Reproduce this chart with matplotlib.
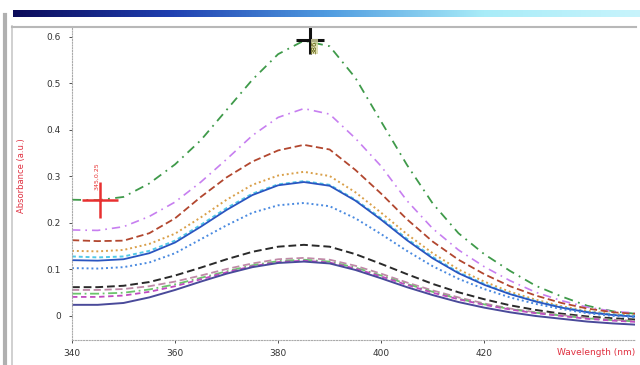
import numpy as np
import matplotlib
matplotlib.use("Agg")
import matplotlib.pyplot as plt
from matplotlib.colors import LinearSegmentedColormap

# wavelength grid (nm) and absorbance curves
wl = [340, 345, 350, 355, 360, 365, 370, 375, 380, 385, 390, 395,
      400, 405, 410, 415, 420, 425, 430, 435, 440, 445, 450]

green = [0.250, 0.249, 0.256, 0.285, 0.326, 0.378, 0.443, 0.508, 0.563, 0.592, 0.580, 0.512,
         0.418, 0.325, 0.242, 0.178, 0.133, 0.097, 0.065, 0.042, 0.022, 0.010, 0.004]
magenta = [0.185, 0.184, 0.192, 0.214, 0.245, 0.288, 0.337, 0.388, 0.427, 0.446, 0.434, 0.382,
           0.322, 0.248, 0.188, 0.142, 0.106, 0.076, 0.051, 0.033, 0.019, 0.010, 0.006]
red = [0.163, 0.161, 0.162, 0.178, 0.210, 0.256, 0.298, 0.332, 0.356, 0.368, 0.358, 0.314,
       0.263, 0.208, 0.160, 0.121, 0.090, 0.064, 0.044, 0.028, 0.016, 0.008, 0.004]
orange = [0.140, 0.139, 0.142, 0.155, 0.177, 0.212, 0.250, 0.282, 0.302, 0.310, 0.301, 0.266,
          0.222, 0.176, 0.135, 0.100, 0.074, 0.052, 0.035, 0.021, 0.011, 0.004, 0.001]
cyan = [0.128, 0.126, 0.128, 0.140, 0.162, 0.196, 0.232, 0.263, 0.283, 0.290, 0.282, 0.250,
        0.210, 0.166, 0.127, 0.094, 0.069, 0.048, 0.032, 0.019, 0.009, 0.003, 0.000]
blue = [0.120, 0.119, 0.122, 0.135, 0.158, 0.192, 0.228, 0.260, 0.281, 0.288, 0.280, 0.248,
        0.207, 0.163, 0.124, 0.092, 0.067, 0.047, 0.031, 0.018, 0.008, 0.002, -0.002]
blue_dot = [0.103, 0.102, 0.105, 0.115, 0.135, 0.165, 0.195, 0.222, 0.238, 0.243, 0.236, 0.210,
            0.176, 0.140, 0.107, 0.080, 0.058, 0.040, 0.026, 0.015, 0.006, 0.000, -0.003]
black = [0.062, 0.062, 0.065, 0.073, 0.087, 0.104, 0.122, 0.138, 0.149, 0.153, 0.149, 0.133,
         0.112, 0.090, 0.069, 0.051, 0.036, 0.023, 0.013, 0.005, -0.001, -0.005, -0.008]
pink = [0.056, 0.056, 0.058, 0.064, 0.074, 0.087, 0.101, 0.113, 0.122, 0.125, 0.121, 0.108,
        0.091, 0.072, 0.055, 0.040, 0.027, 0.016, 0.008, 0.002, -0.004, -0.008, -0.011]
green_low = [0.048, 0.048, 0.050, 0.057, 0.068, 0.082, 0.096, 0.109, 0.118, 0.121, 0.117, 0.104,
             0.087, 0.069, 0.052, 0.037, 0.025, 0.015, 0.007, 0.001, -0.005, -0.009, -0.012]
magenta_low = [0.041, 0.041, 0.044, 0.052, 0.064, 0.079, 0.094, 0.107, 0.116, 0.119, 0.115, 0.102,
               0.085, 0.067, 0.050, 0.036, 0.024, 0.014, 0.006, 0.000, -0.006, -0.010, -0.013]
purple = [0.024, 0.024, 0.028, 0.040, 0.056, 0.074, 0.091, 0.105, 0.114, 0.117, 0.113, 0.099,
          0.081, 0.062, 0.045, 0.030, 0.018, 0.008, 0.000, -0.006, -0.012, -0.016, -0.019]

# cursor crosshairs
cursor_wl = [345.5, 386.2]
cursor_abs = [0.250, 0.594]
cursor_text = ["345,0.25", "386"]

x_ticks = [340, 360, 380, 400, 420]
y_ticks = [0, 0.1, 0.2, 0.3, 0.4, 0.5, 0.6]

curves = [
    (green, "#3f9a4a", (0, (5, 3, 1, 3)), 1.3),
    (magenta, "#c77ff0", (0, (5, 3, 1, 3)), 1.2),
    (red, "#b2472f", (0, (4, 2)), 1.3),
    (orange, "#d9a04a", (0, (1, 1.5)), 1.4),
    (cyan, "#52c8e8", (0, (2, 1.5)), 1.4),
    (blue, "#2a55c0", "-", 1.3),
    (blue_dot, "#4a8ae0", (0, (1, 1.5)), 1.4),
    (black, "#2a2a2a", (0, (4, 2)), 1.4),
    (pink, "#c08aa8", (0, (4, 2)), 1.3),
    (green_low, "#6cc46c", (0, (5, 2, 1, 2)), 1.3),
    (magenta_low, "#c04cc0", (0, (3, 2)), 1.3),
    (purple, "#4a4a9a", "-", 1.4),
]

fig = plt.figure(figsize=(6.4, 3.65), dpi=100)

# window title bar gradient
bar = fig.add_axes([0.02, 0.953, 0.98, 0.02])
cmap = LinearSegmentedColormap.from_list("bar", ["#0c0c5a", "#1f3fb0", "#4f9be0", "#a8ecf8", "#c8f4fc"])
bar.imshow(np.linspace(0, 1, 256)[None, :], aspect="auto", cmap=cmap)
bar.axis("off")

# window/panel borders
fig.add_artist(plt.Line2D([0.008, 0.008], [0, 0.96], color="#b0b0b0", lw=3))
fig.add_artist(plt.Line2D([0.019, 0.019], [0, 0.93], color="#c8c8c8", lw=1.2))
fig.add_artist(plt.Line2D([0.019, 0.994], [0.926, 0.926], color="#b8b8b8", lw=1.5))

ax = fig.add_axes([0.1125, 0.068, 0.88, 0.855])
for vals, col, ls, lw in curves:
    ax.plot(wl, vals, color=col, ls=ls, lw=lw)

ax.plot(cursor_wl[0], cursor_abs[0], marker="+", color="#e83030", ms=26, mew=1.8)
ax.plot(cursor_wl[1], cursor_abs[1], marker="+", color="#111111", ms=20, mew=2.2)
ax.text(cursor_wl[0] - 1.2, cursor_abs[0] + 0.02, cursor_text[0], color="#e83030",
        fontsize=4.5, rotation=90, ha="left", va="bottom")
ax.text(cursor_wl[1] + 0.3, cursor_abs[1] - 0.03, cursor_text[1], color="#555500",
        fontsize=5, rotation=90, ha="left", va="bottom",
        bbox=dict(boxstyle="square,pad=0.1", fc="#d8d8a0", ec="none", alpha=0.8))

ax.set_xlim(340, 449.3)
ax.set_ylim(-0.052, 0.619)
ax.set_xticks(x_ticks)
ax.set_yticks(y_ticks)
ax.set_xticklabels([str(t) for t in x_ticks])
ax.set_yticklabels(["0" if t == 0 else f"{t:.1f}" for t in y_ticks])
ax.tick_params(labelsize=6.5, colors="#333333", length=2, width=0.6, pad=6)
ax.tick_params(axis="x", pad=4)

for s in ["top", "right"]:
    ax.spines[s].set_visible(False)
for s in ["left", "bottom"]:
    ax.spines[s].set_color("#aaaaaa")
    ax.spines[s].set_linestyle((0, (1, 1.5)))
    ax.spines[s].set_linewidth(0.8)

ax.text(1.0, -0.04, "Wavelength (nm)", transform=ax.transAxes, color="#e03040",
        fontsize=6.5, ha="right", va="center")
fig.text(0.034, 0.52, "Absorbance (a.u.)", color="#e03040", fontsize=6,
         rotation=90, ha="center", va="center")

fig.savefig("out.png", dpi=100)
